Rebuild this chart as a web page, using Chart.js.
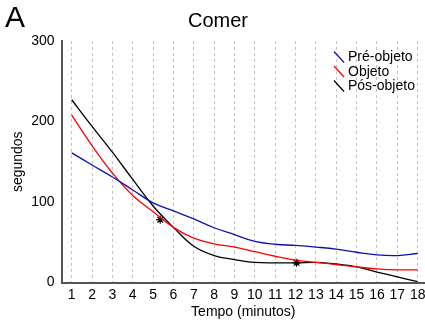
<!DOCTYPE html>
<html>
<head>
<meta charset="utf-8">
<script src="https://cdn.jsdelivr.net/npm/chart.js@4/dist/chart.umd.min.js"></script>
<style>
  html, body { margin: 0; padding: 0; background: #fff; }
  canvas { display: block; }
</style>
</head>
<body>
<canvas id="comerChart" width="425" height="326"></canvas>
<script>
// minutes 1..18 and time (seconds) per group
var minutos = [1, 2, 3, 4, 5, 6, 7, 8, 9, 10, 11, 12, 13, 14, 15, 16, 17, 18];
var preObjeto = [161, 146, 131, 115, 99, 89, 79, 68, 59.5, 51, 47.5, 46, 44, 41.5, 37.6, 34.3, 33.5, 36];
var objeto = [208, 170, 136, 108, 88, 68.5, 55, 48, 44, 38.4, 32.6, 27.7, 25, 22.3, 19.4, 17, 15.7, 15.7];
var posObjeto = [227, 194, 162, 128, 95, 68.5, 45, 33.5, 28.5, 25, 24.4, 24.4, 25, 23, 19.4, 13, 7, 1];
// asterisks marking significant points
var estrelaX = [5.35, 12.05];
var estrelaY = [78, 24.4];
var yTicks = [0, 100, 200, 300];

var fonte = '"Liberation Sans", Arial, sans-serif';

function pontos(ys) {
    return minutos.map(function (m, i) { return { x: m, y: ys[i] }; });
}

// "A", the title and the little legend inside the plot
var decoracao = {
    id: 'decoracao',
    afterDraw: function (chart) {
        var ctx = chart.ctx;
        var area = chart.chartArea;
        ctx.save();
        ctx.fillStyle = '#000';
        ctx.textBaseline = 'alphabetic';
        ctx.font = '30px ' + fonte;
        ctx.textAlign = 'left';
        ctx.fillText('A', 5, 27);
        ctx.font = '20px ' + fonte;
        ctx.textAlign = 'center';
        ctx.fillText('Comer', 218, 26.5);

        ctx.font = '14px ' + fonte;
        ctx.textAlign = 'left';
        ctx.textBaseline = 'middle';
        var tx = area.right - 77;
        var ty = area.top + 16;
        chart.data.datasets.forEach(function (ds) {
            if (ds.noLegend) return;
            ctx.strokeStyle = ds.borderColor;
            ctx.lineWidth = 1.2;
            ctx.beginPath();
            ctx.moveTo(tx - 14, ty - 5.5);
            ctx.lineTo(tx - 4, ty + 5.5);
            ctx.stroke();
            ctx.fillStyle = '#000';
            ctx.fillText(ds.label, tx, ty + 0.5);
            ty += 14.5;
        });
        ctx.restore();
    }
};

var ctx = document.getElementById('comerChart').getContext('2d');
var chart = new Chart(ctx, {
    type: 'line',
    data: {
        datasets: [{
            label: 'Pré-objeto',
            data: pontos(preObjeto),
            borderColor: '#1010b0',
            borderWidth: 1.3,
            pointRadius: 0,
            tension: 0.4,
            fill: false
        }, {
            label: 'Objeto',
            data: pontos(objeto),
            borderColor: '#ff0000',
            borderWidth: 1.3,
            pointRadius: 0,
            tension: 0.4,
            fill: false
        }, {
            label: 'Pós-objeto',
            data: pontos(posObjeto),
            borderColor: '#000000',
            borderWidth: 1.3,
            pointRadius: 0,
            tension: 0.4,
            fill: false
        }, {
            label: 'estrelas',
            noLegend: true,
            data: estrelaX.map(function (x, i) { return { x: x, y: estrelaY[i] }; }),
            showLine: false,
            pointStyle: 'star',
            pointRadius: 4,
            borderColor: '#000',
            backgroundColor: '#000',
            borderWidth: 1.2
        }]
    },
    options: {
        responsive: false,
        animation: false,
        layout: { autoPadding: false, padding: { top: 41, left: 0, right: 0, bottom: 0 } },
        plugins: {
            legend: { display: false },
            tooltip: { enabled: false },
            title: { display: false }
        },
        scales: {
            x: {
                type: 'linear',
                min: 0.5,
                max: 18.36,
                afterBuildTicks: function (scale) {
                    scale.ticks = minutos.map(function (m) { return { value: m }; });
                },
                afterFit: function (scale) {
                    scale.height = 43.5;
                    scale.paddingLeft = 0;
                    scale.paddingRight = 0;
                },
                grid: { display: true, color: '#c4c4c4', lineWidth: 1, drawTicks: false },
                border: { display: true, color: '#555', width: 2, dash: [3, 3] },
                ticks: {
                    autoSkip: false,
                    maxRotation: 0,
                    padding: 4,
                    color: '#000',
                    font: { family: fonte, size: 14 }
                },
                title: {
                    display: true,
                    text: 'Tempo (minutos)',
                    color: '#000',
                    font: { family: fonte, size: 14 },
                    padding: { top: 0, bottom: 5.5 }
                }
            },
            y: {
                min: 0,
                max: 300,
                afterBuildTicks: function (scale) {
                    scale.ticks = yTicks.map(function (v) { return { value: v }; });
                },
                afterFit: function (scale) { scale.width = 61.5; },
                grid: { display: false, drawTicks: false },
                border: { display: true, color: '#555', width: 2 },
                ticks: {
                    padding: 7,
                    color: '#000',
                    font: { family: fonte, size: 14 }
                },
                title: {
                    display: true,
                    text: 'segundos',
                    color: '#000',
                    font: { family: fonte, size: 14 },
                    padding: { top: 9.5, bottom: 0 }
                }
            }
        }
    },
    plugins: [decoracao]
});
</script>
</body>
</html>
